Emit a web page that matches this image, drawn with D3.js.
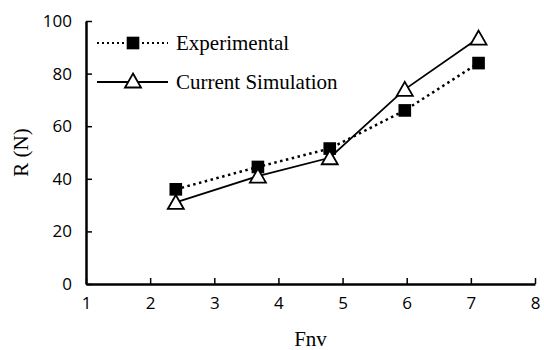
<!DOCTYPE html>
<style>
    body { margin: 0; background: #fff; }
    .tick text { font-family: "Open Sans", "Liberation Sans", sans-serif; font-size: 17px; fill: #000; }
</style>
<svg width="544" height="350"></svg>
<script src="https://d3js.org/d3.v7.min.js"></script>
<script>

    var fnv = [2.4, 3.68, 4.8, 5.97, 7.12];
    var experimental = [36, 44.5, 51.5, 66, 84];
    var simulation = [31, 41, 48, 74, 93.5];
    var xTicks = [1, 2, 3, 4, 5, 6, 7, 8];
    var yTicks = [0, 20, 40, 60, 80, 100];

    var serif = "'Liberation Serif', 'Times New Roman', serif";

    var svg = d3.select("svg"),
        margin = {top: 21, right: 9, bottom: 66, left: 86},
        width = +svg.attr("width"),
        height = +svg.attr("height");

    var x = d3.scaleLinear().domain([1, 8]).range([margin.left, width - margin.right]);
    var y = d3.scaleLinear().domain([0, 100]).range([height - margin.bottom, margin.top]);

    // axes, ticks pointing inwards
    var gx = svg.append("g")
        .attr("transform", "translate(0," + y(0) + ")")
        .call(d3.axisBottom(x).tickValues(xTicks).tickFormat(d3.format("d"))
            .tickSize(-6).tickPadding(13).tickSizeOuter(0));
    var gy = svg.append("g")
        .attr("transform", "translate(" + x(1) + ",0)")
        .call(d3.axisLeft(y).tickValues(yTicks).tickFormat(d3.format("d"))
            .tickSize(-6).tickPadding(14).tickSizeOuter(0));
    [gx, gy].forEach(function (g) {
        g.select(".domain").attr("stroke", "#000").attr("stroke-width", 2.5);
        g.selectAll(".tick line").attr("stroke", "#000").attr("stroke-width", 1.5);
    });

    var pts = function (vals) {
        return vals.map(function (v, i) { return [fnv[i], v]; });
    };
    var line = d3.line().x(function (d) { return x(d[0]); }).y(function (d) { return y(d[1]); });

    svg.append("path")
        .datum(pts(experimental))
        .attr("fill", "none").attr("stroke", "#000").attr("stroke-width", 2.5)
        .attr("stroke-dasharray", "2.5,3.5")
        .attr("d", line);

    svg.append("path")
        .datum(pts(simulation))
        .attr("fill", "none").attr("stroke", "#000").attr("stroke-width", 1.8)
        .attr("d", line);

    var square = d3.symbol().type(d3.symbolSquare).size(160);
    var triangle = "M0,-7.5L8,6.5L-8,6.5Z";

    svg.append("g").selectAll("path")
        .data(pts(experimental))
        .enter().append("path")
        .attr("transform", function (d) { return "translate(" + x(d[0]) + "," + y(d[1]) + ")"; })
        .attr("d", square)
        .attr("fill", "#000");

    svg.append("g").selectAll("path")
        .data(pts(simulation))
        .enter().append("path")
        .attr("transform", function (d) { return "translate(" + x(d[0]) + "," + y(d[1]) + ")"; })
        .attr("d", triangle)
        .attr("fill", "#fff").attr("stroke", "#000").attr("stroke-width", 1.8);

    // legend
    var legend = svg.append("g").attr("font-family", serif).attr("font-size", 21);
    legend.append("line").attr("x1", 97).attr("x2", 168).attr("y1", 43).attr("y2", 43)
        .attr("stroke", "#000").attr("stroke-width", 2).attr("stroke-dasharray", "2,3");
    legend.append("path").attr("transform", "translate(133,43)").attr("d", square).attr("fill", "#000");
    legend.append("text").attr("x", 176).attr("y", 50).text("Experimental");

    legend.append("line").attr("x1", 97).attr("x2", 168).attr("y1", 82).attr("y2", 82)
        .attr("stroke", "#000").attr("stroke-width", 1.8);
    legend.append("path").attr("transform", "translate(133,81)").attr("d", triangle)
        .attr("fill", "#fff").attr("stroke", "#000").attr("stroke-width", 1.8);
    legend.append("text").attr("x", 176).attr("y", 89).text("Current Simulation");

    // axis titles
    svg.append("text").attr("font-family", serif)
        .attr("x", (x(1) + x(8)) / 2).attr("y", 346)
        .attr("text-anchor", "middle").attr("font-size", 21).text("Fnv");
    svg.append("text").attr("font-family", serif)
        .attr("transform", "translate(28," + ((y(0) + y(100)) / 2) + ") rotate(-90)")
        .attr("text-anchor", "middle").attr("font-size", 21).text("R (N)");

</script>
